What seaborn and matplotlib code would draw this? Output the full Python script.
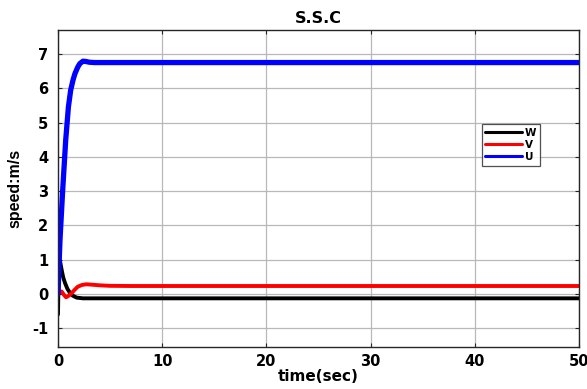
import matplotlib
matplotlib.use("Agg")
import matplotlib.pyplot as plt
import seaborn as sns
import pandas as pd

# Time samples (s) and speed responses (m/s) of the three velocity components
t_u = [0, 0.19, 0.45, 0.74, 1.0, 1.22, 1.45, 1.63, 1.9, 2.1, 2.4, 2.7, 3.0, 3.5,
       4.5, 6, 10, 20, 30, 40, 50]
u = [0.0, 1.57, 3.03, 4.49, 5.46, 5.95, 6.25, 6.43, 6.62, 6.72, 6.79, 6.78, 6.76, 6.75,
     6.75, 6.75, 6.75, 6.75, 6.75, 6.75, 6.75]

t_w = [0, 0.05, 0.1, 0.2, 0.35, 0.5, 0.67, 0.9, 1.15, 1.4, 1.8, 2.4, 3, 5, 10, 20, 30, 40, 50]
w = [-0.6, 0.4, 1.0, 0.95, 0.7, 0.48, 0.32, 0.15, 0.03, -0.05, -0.11, -0.13, -0.13,
     -0.13, -0.13, -0.13, -0.13, -0.13, -0.13]

t_v = [0, 0.15, 0.35, 0.55, 0.77, 1.0, 1.3, 1.6, 1.9, 2.3, 2.7, 3.2, 4, 5, 7, 10, 20, 30, 40, 50]
v = [0.0, 0.06, 0.07, -0.02, -0.1, -0.06, 0.02, 0.12, 0.21, 0.26, 0.28, 0.27, 0.25,
     0.235, 0.23, 0.23, 0.23, 0.23, 0.23, 0.23]

x_ticks = [0, 10, 20, 30, 40, 50]
y_ticks = [-1, 0, 1, 2, 3, 4, 5, 6, 7]

sns.set_style("ticks")
plt.rcParams["font.family"] = ["DejaVu Sans"]
plt.rcParams["axes.unicode_minus"] = False
plt.rcParams["text.color"] = "black"
plt.rcParams["axes.labelcolor"] = "black"

fig = plt.figure(figsize=(5.87, 3.89), dpi=100)
ax = fig.add_axes([58 / 587, 42 / 389, 521 / 587, 317 / 389])

df_w = pd.DataFrame({"t": t_w, "val": w})
df_v = pd.DataFrame({"t": t_v, "val": v})
df_u = pd.DataFrame({"t": t_u, "val": u})

sns.lineplot(data=df_w, x="t", y="val", ax=ax, color="black", lw=2.8, label="W", sort=False)
sns.lineplot(data=df_v, x="t", y="val", ax=ax, color="#ff0000", lw=2.8, label="V", sort=False)
sns.lineplot(data=df_u, x="t", y="val", ax=ax, color="#0000ff", lw=3.8, label="U", sort=False)

ax.set_xlim(0, 50)
ax.set_ylim(-1.55, 7.7)
ax.set_xticks(x_ticks)
ax.set_yticks(y_ticks)
ax.grid(True, color="#b8b8b8", lw=0.9)
ax.set_axisbelow(True)
ax.tick_params(direction="in", length=3, labelsize=10.5, colors="#262626",
               labelcolor="black", right=True, top=True)
ax.tick_params(axis="x", pad=5)
ax.tick_params(axis="y", pad=7)
for lab in ax.get_xticklabels() + ax.get_yticklabels():
    lab.set_fontweight("bold")
for s in ax.spines.values():
    s.set_visible(True)
    s.set_color("#262626")
    s.set_linewidth(1.0)

ax.set_title("S.S.C", fontsize=11.5, fontweight="bold", pad=5)
ax.set_xlabel("time(sec)", fontsize=11, fontweight="bold", labelpad=0)
ax.set_ylabel("speed:m/s", fontsize=11.5, fontweight="bold", labelpad=7,
              family=["Liberation Sans", "DejaVu Sans"])

leg = ax.legend(loc="upper right", bbox_to_anchor=(0.925, 0.703), borderaxespad=0,
                fontsize=7.5, handlelength=3.5, handletextpad=0.3, labelspacing=0.2,
                frameon=True, fancybox=False, edgecolor="#262626", borderpad=0.35)
leg.get_frame().set_linewidth(0.9)
for line in leg.get_lines():
    line.set_linewidth(2.2)
for t in leg.get_texts():
    t.set_fontweight("bold")

fig.savefig("out.png", dpi=100)
